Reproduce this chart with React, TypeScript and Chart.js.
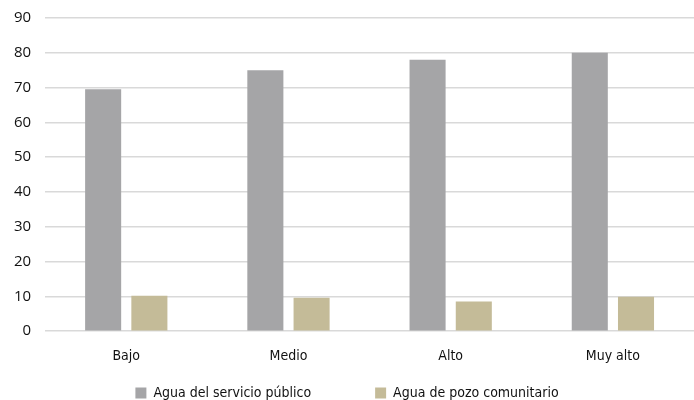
import React, { useEffect, useRef } from "react";
import { Chart, registerables } from "chart.js";

Chart.register(...registerables);

const categories = ["Bajo", "Medio", "Alto", "Muy alto"];
const publicWater = [69.5, 75, 78, 80];
const wellWater = [10.2, 9.6, 8.5, 9.9];
const seriesNames = ["Agua del servicio público", "Agua de pozo comunitario"];

const condensed = "'Liberation Sans Narrow', 'DejaVu Sans Condensed', 'Roboto', sans-serif";

export default function App() {
  const ref = useRef<HTMLCanvasElement>(null);
  useEffect(() => {
    document.body.style.margin = "0";
    const chart = new Chart(ref.current!, {
      type: "bar",
      data: {
        labels: categories,
        datasets: [
          {
            label: seriesNames[0],
            data: publicWater,
            backgroundColor: "#a5a5a7",
            barPercentage: 0.78,
            categoryPercentage: 0.57,
          },
          {
            label: seriesNames[1],
            data: wellWater,
            backgroundColor: "#c4bb98",
            barPercentage: 0.78,
            categoryPercentage: 0.57,
          },
        ],
      },
      options: {
        animation: false,
        responsive: false,
        layout: { padding: { top: 18, right: 0, left: 0, bottom: 0 } },
        plugins: {
          tooltip: { enabled: false },
          legend: {
            position: "bottom",
            labels: {
              boxWidth: 11,
              boxHeight: 11,
              padding: 12,
              color: "#111",
              font: { family: condensed, size: 14 },
              generateLabels: (c: any) => {
                const items = Chart.defaults.plugins.legend.labels.generateLabels(c);
                items.forEach((it: any, i: number) => {
                  it.lineWidth = 0;
                  if (i === 0) it.text = it.text + "             ";
                });
                return items;
              },
            },
          },
        },
        scales: {
          x: {
            grid: { display: false },
            border: { display: false },
            ticks: {
              color: "#111",
              padding: 9,
              font: { family: condensed, size: 14 },
            },
          },
          y: {
            min: 0,
            max: 90,
            afterFit: (s: any) => {
              s.paddingTop = 0;
            },
            ticks: {
              stepSize: 10,
              color: "#111",
              padding: 14,
              font: { family: "'Open Sans', 'Noto Sans', sans-serif", size: 15 },
            },
            grid: { color: "#d9d9d9", lineWidth: 1.5, drawTicks: false },
            border: { display: false },
          },
        },
      },
    });
    return () => chart.destroy();
  }, []);
  return (
    <div style={{ width: 694, height: 400, overflow: "hidden" }}>
      <canvas ref={ref} width={694} height={410} style={{ display: "block" }} />
    </div>
  );
}
